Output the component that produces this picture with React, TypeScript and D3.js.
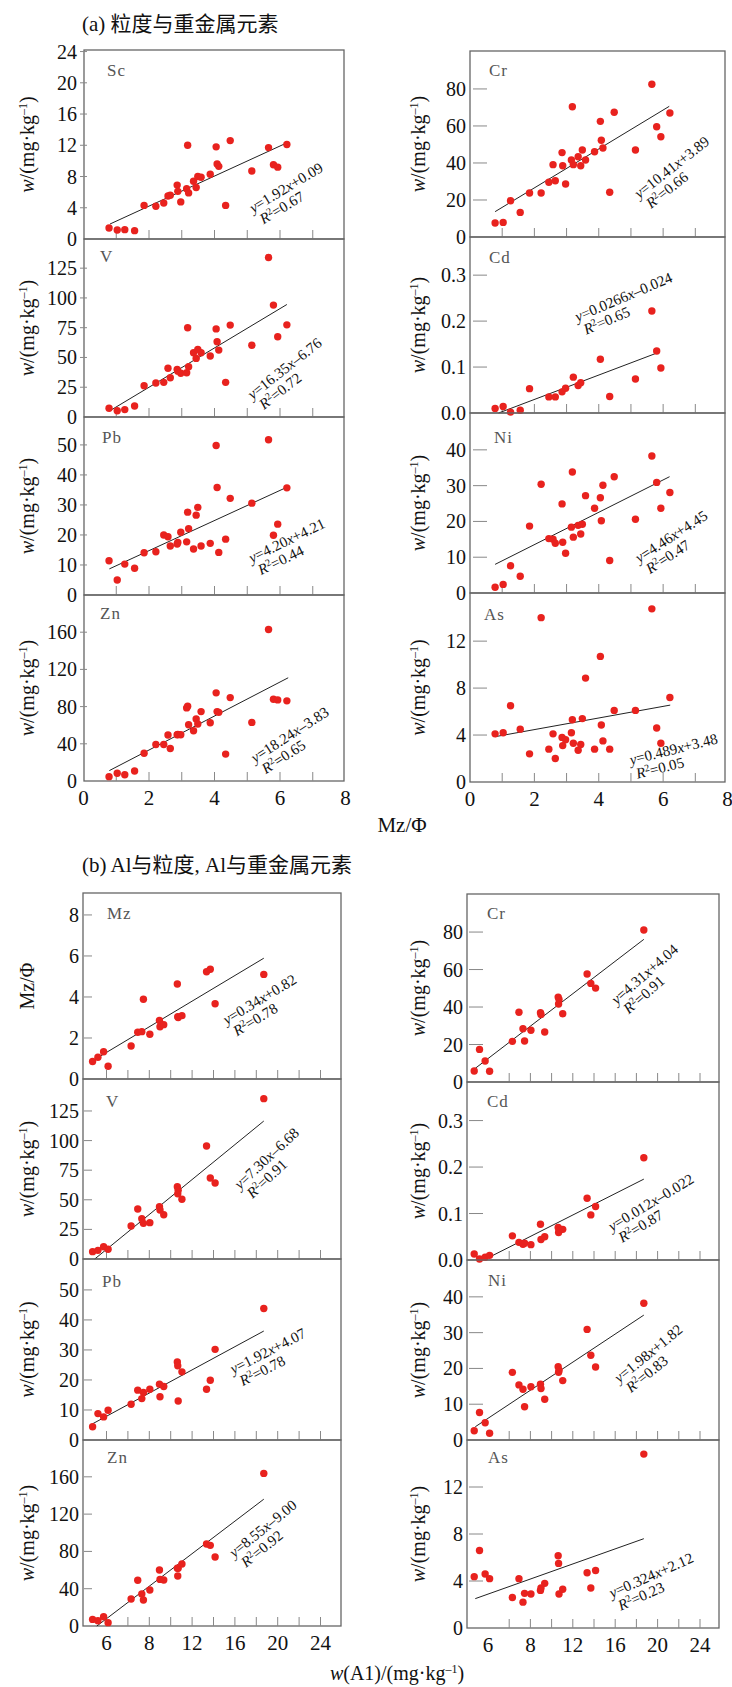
import * as d3 from 'd3';
import React from 'react';

// (a) mean grain size Mz (Φ) of each sample, same samples in every panel of part (a)
const mzA = [0.78, 1.03, 1.26, 1.56, 1.85, 2.21, 2.45, 2.58, 2.65, 2.86, 2.88, 2.97, 3.15, 3.18, 3.21, 3.36, 3.44, 3.49, 3.59, 3.87, 4.05, 4.08, 4.13, 4.34, 4.48, 5.14, 5.65, 5.8, 5.93, 6.21];
const scA = [1.4, 1.15, 1.2, 1.07, 4.3, 4.2, 4.6, 5.5, 5.6, 6.9, 6.1, 4.75, 6.45, 12.0, 5.9, 7.4, 6.6, 8.0, 7.9, 8.3, 11.8, 9.6, 9.3, 4.3, 12.6, 8.7, 11.7, 9.5, 9.2, 12.1];
const vA = [7.3, 5.3, 6.2, 9.2, 26.3, 28.5, 29.1, 40.9, 33, 40, 38.5, 36.7, 37.2, 75, 42.2, 54, 49.2, 56.8, 54, 51.2, 74, 63.2, 56.2, 29.1, 77.2, 60.2, 134, 94, 67.4, 77.4];
const pbA = [11.4, 5.0, 10.3, 8.9, 14.1, 14.4, 20, 19.4, 16.3, 17, 17.5, 20.9, 17.7, 27.6, 22.1, 15.3, 26.6, 29.2, 16.3, 17.2, 49.8, 35.8, 14.2, 18.6, 32.2, 30.6, 51.7, 19.9, 23.6, 35.7];
const znA = [4.7, 8.3, 6.8, 10.8, 29.9, 39.3, 39.3, 49.4, 35, 49.7, 50, 49.7, 78.6, 80.3, 60.5, 54, 66.7, 61.3, 74.6, 62.7, 94.8, 74.6, 73.8, 28.9, 89.7, 63, 162.9, 87.9, 87.2, 86.2];
const crA = [7.6, 7.9, 19.6, 13.3, 23.8, 23.8, 29.6, 39.1, 30.4, 45.6, 38.5, 28.6, 41.6, 70.4, 39.1, 43.4, 38.5, 47, 41.6, 46.1, 62.5, 52.3, 48.1, 24.2, 67.4, 47, 82.5, 59.6, 54.2, 67];
const cdA = [0.01, 0.014, 0.002, 0.006, 0.053, null, 0.035, null, 0.035, 0.046, null, 0.054, null, null, 0.078, 0.06, 0.066, null, null, null, 0.117, null, null, 0.036, null, 0.074, 0.222, 0.135, 0.098, null];
const niA = [1.6, 2.4, 7.6, 4.7, 18.7, 30.4, 15.2, 15.0, 13.9, 24.9, 14.2, 11.1, 18.4, 33.8, 15.6, 18.9, 16.5, 19.2, 27.2, 23.7, 26.6, 20.2, 30.1, 9.1, 32.5, 20.6, 38.3, 30.9, 23.7, 28.1];
const asA = [4.1, 4.2, 6.5, 4.5, 2.4, 14.0, 2.8, 4.1, 2.0, 3.8, 3.1, 3.6, 4.2, 5.3, 3.3, 2.7, 3.2, 5.4, 8.85, 2.8, 10.7, 4.85, 3.5, 2.8, 6.1, 6.1, 14.75, 4.6, 3.3, 7.2];

// (b) Al content of each sample (axis units as drawn)
const alB = [2.7, 3.2, 3.73, 4.15, 6.3, 6.92, 7.3, 7.45, 8.05, 8.95, 9.0, 9.35, 10.62, 10.66, 10.7, 11.05, 13.35, 13.7, 14.15, 18.7];
const mzB = [0.85, 1.06, 1.33, 0.62, 1.61, 2.28, 2.31, 3.89, 2.18, 2.85, 2.55, 2.65, 4.63, 3.04, 3.0, 3.09, 5.23, 5.35, 3.67, 5.1];
const vB = [6.2, 7.3, 10.4, 8.2, 27.9, 42.2, 34, 30.1, 30.7, 44.2, 41.4, 37.4, 61.1, 55, 58, 50.4, 95.4, 68.4, 64.2, 135.4];
const pbB = [4.4, 8.8, 7.7, 9.9, 11.9, 16.6, 13.8, 15.8, 16.9, 18.6, 14.4, 17.8, 26, 24.7, 13, 22.7, 16.9, 19.9, 30.2, 43.8];
const znB = [7.1, 5.7, 10, 3.6, 29, 49, 34.3, 27.9, 38.6, 60, 50, 49.3, 61.9, 53.6, 62, 66.5, 87.9, 86.5, 74, 163.7];
const crB = [5.9, 17.4, 11.2, 5.7, 21.7, 37.2, 28.4, 21.9, 27.6, 37, 36, 26.7, 45.3, 41.6, 44, 36.4, 57.6, 52.6, 50.1, 81.1];
const cdB = [0.013, 0.002, 0.006, 0.01, 0.052, 0.038, 0.034, 0.036, 0.033, 0.077, 0.044, 0.05, 0.07, 0.059, 0.063, 0.066, 0.133, 0.097, 0.115, 0.22];
const niB = [2.6, 7.7, 4.8, 1.9, 18.9, 15.4, 14.2, 9.3, 14.9, 15.6, 14.4, 11.4, 20.5, 18.9, 19.5, 16.6, 30.9, 23.7, 20.4, 38.2];
const asB = [4.37, 6.6, 4.6, 4.2, 2.6, 4.2, 2.2, 2.95, 2.9, 3.2, 3.4, 3.8, 6.15, 5.5, 2.9, 3.3, 4.7, 3.4, 4.9, 14.8];

// regression lines as drawn: [x0, y0, x1, y1]
const fitA = [
  [0.81, 1.92, 6.23, 12.35], [0.79, 5.0, 6.21, 94.5], [0.79, 8.7, 6.21, 35.9], [0.79, 11.2, 6.25, 111],
  [0.78, 13.7, 6.19, 70.6], [0.89, 0.0, 5.9, 0.133], [0.78, 8.0, 6.2, 32.5], [0.78, 3.86, 6.22, 6.55],
];
const fitB = [
  [2.7, 0.89, 18.7, 5.89], [2.9, 0, 18.7, 116.5], [2.7, 5.4, 18.7, 36.3], [3.1, 0, 18.7, 136],
  [2.8, 7.3, 18.7, 76.1], [3.6, 0, 18.7, 0.174], [2.8, 3.7, 18.7, 34.9], [2.8, 2.5, 18.7, 7.6],
];

// slope, intercept, R²
const eqA = [
  ['1.92', '+0.09', '0.67'], ['16.35', '–6.76', '0.72'], ['4.20', '+4.21', '0.44'], ['18.24', '–3.83', '0.65'],
  ['10.41', '+3.89', '0.66'], ['0.0266', '–0.024', '0.65'], ['4.46', '+4.45', '0.47'], ['0.489', '+3.48', '0.05'],
];
const eqB = [
  ['0.34', '+0.82', '0.78'], ['7.30', '–6.68', '0.91'], ['1.92', '+4.07', '0.78'], ['8.55', '–9.00', '0.92'],
  ['4.31', '+4.04', '0.91'], ['0.012', '–0.022', '0.87'], ['1.98', '+1.82', '0.83'], ['0.324', '+2.12', '0.23'],
];

const xTicksA = [1, 2, 3, 4, 5, 6, 7];
const xLabelsA = [0, 2, 4, 6, 8];
const xTicksBL = [4, 6, 8, 10, 12, 14, 16, 18, 20, 22, 24];
const xTicksBR = [6, 8, 10, 12, 14, 16, 18, 20, 22, 24];
const xLabelValsB = [4, 8, 12, 16, 20, 24];
const xLabelTextB = ['6', '8', '12', '16', '20', '24'];

const RED = '#e8221e';
const SERIF = "'Liberation Serif', 'Times New Roman', serif";
const CJK = "'Liberation Serif', 'Noto Sans CJK SC', sans-serif";

// column layouts
const colAL = { frameL: 84, frameR: 344, xDomain: [0, 8], xRange: [83.5, 345.5], tops: [50, 239, 417, 595, 781], yTick: [-4, 3], labelGap: 7, titleX: 27, xTicks: xTicksA, xLabels: xLabelsA.map(v => [v, String(v)]) };
const colAR = { frameL: 470, frameR: 725, xDomain: [0, 8], xRange: [470, 727.5], tops: [51, 237, 413, 593, 782], yTick: [3, 17], labelGap: 4, titleX: 418, xTicks: xTicksA, xLabels: xLabelsA.map(v => [v, String(v)]) };
const colBL = { frameL: 83, frameR: 341, xDomain: [4, 24], xRange: [106.5, 320.5], tops: [893, 1079, 1259, 1440, 1626], yTick: [1, 9], labelGap: 4, titleX: 27, xTicks: xTicksBL, xLabels: xLabelValsB.map((v, i) => [v, xLabelTextB[i]]) };
const colBR = { frameL: 467, frameR: 719, xDomain: [4, 24], xRange: [488, 700], tops: [894, 1082, 1260, 1440, 1628], yTick: [2, 16], labelGap: 4, titleX: 418, xTicks: xTicksBR, xLabels: xLabelValsB.map((v, i) => [v, xLabelTextB[i]]) };

const panelsA = [
  { name: 'Sc', col: colAL, row: 0, ys: scA, yMax: 24.2, yTicks: [0, 4, 8, 12, 16, 20, 24], note: [5.18, 3.3, -31], nameAt: [23, 26] },
  { name: 'V', col: colAL, row: 1, ys: vA, yMax: 149.5, yTicks: [0, 25, 50, 75, 100, 125], note: [5.16, 14.3, -38], nameAt: [16, 23] },
  { name: 'Pb', col: colAL, row: 2, ys: pbA, yMax: 59.3, yTicks: [0, 10, 20, 30, 40, 50], note: [5.14, 10.6, -26], nameAt: [18, 26] },
  { name: 'Zn', col: colAL, row: 3, ys: znA, yMax: 200, yTicks: [0, 40, 80, 120, 160], note: [5.24, 19.1, -33], nameAt: [16, 24] },
  { name: 'Cr', col: colAR, row: 0, ys: crA, yMax: 100.5, yTicks: [0, 20, 40, 60, 80], note: [5.26, 20.5, -38], nameAt: [19, 25] },
  { name: 'Cd', col: colAR, row: 1, ys: cdA, yMax: 0.383, yTicks: [0, 0.1, 0.2, 0.3], note: [3.34, 0.198, -23], nameAt: [19, 26] },
  { name: 'Ni', col: colAR, row: 2, ys: niA, yMax: 50.3, yTicks: [0, 10, 20, 30, 40], note: [5.26, 8.3, -33], nameAt: [24, 30] },
  { name: 'As', col: colAR, row: 3, ys: asA, yMax: 16.1, yTicks: [0, 4, 8, 12], note: [5.0, 1.45, -14], nameAt: [14, 27] },
];

const panelsB = [
  { name: 'Mz', col: colBL, row: 0, ys: mzB, yMax: 9.07, yTicks: [0, 2, 4, 6, 8], note: [15.23, 2.63, -31], nameAt: [24, 26], title: 'Mz/Φ' },
  { name: 'V', col: colBL, row: 1, ys: vB, yMax: 152, yTicks: [0, 25, 50, 75, 100, 125], note: [16.48, 58.3, -43], nameAt: [23, 28] },
  { name: 'Pb', col: colBL, row: 2, ys: pbB, yMax: 60.3, yTicks: [0, 10, 20, 30, 40, 50], note: [15.85, 21.9, -27], nameAt: [19, 28] },
  { name: 'Zn', col: colBL, row: 3, ys: znB, yMax: 199.5, yTicks: [0, 40, 80, 120, 160], note: [15.94, 72.6, -39], nameAt: [24, 23] },
  { name: 'Cr', col: colBR, row: 0, ys: crB, yMax: 100.3, yTicks: [0, 20, 40, 60, 80], note: [16.14, 41, -41], nameAt: [20, 25] },
  { name: 'Cd', col: colBR, row: 1, ys: cdB, yMax: 0.383, yTicks: [0, 0.1, 0.2, 0.3], note: [15.7, 0.061, -31], nameAt: [20, 25] },
  { name: 'Ni', col: colBR, row: 2, ys: niB, yMax: 50.3, yTicks: [0, 10, 20, 30, 40], note: [16.39, 15.8, -39], nameAt: [21, 26] },
  { name: 'As', col: colBR, row: 3, ys: asB, yMax: 16.0, yTicks: [0, 4, 8, 12], note: [15.7, 2.53, -24], nameAt: [21, 23] },
];

const YTitle = ({ x, y, text }) => (
  <text transform={`translate(${x},${y}) rotate(-90)`} textAnchor="middle" dy="0.35em" fontSize={20}>
    {text ? text : (
      <>
        <tspan fontStyle="italic">w</tspan>/(mg·kg<tspan fontSize={12} dy={-7}>–1</tspan><tspan dy={7}>)</tspan>
      </>
    )}
  </text>
);

const Panel = ({ p, xs, fit, eq }) => {
  const col = p.col;
  const top = col.tops[p.row];
  const bottom = col.tops[p.row + 1];
  const x = d3.scaleLinear(col.xDomain, col.xRange);
  const y = d3.scaleLinear([0, p.yMax], [bottom, top]);
  const fmt = p.yMax < 1 ? d3.format('.1f') : d3.format('d');
  const pts = xs.map((v, i) => [v, p.ys[i]]).filter(d => d[1] != null);
  const line = d3.line(d => x(d[0]), d => y(d[1]));
  const [nx, ny, ang] = p.note;

  return (
    <g>
      <rect x={col.frameL} y={top} width={col.frameR - col.frameL} height={bottom - top} fill="none" stroke="#666" strokeWidth={1.3} />
      {/* y ticks */}
      {p.yTicks.map(t => (
        <g key={t}>
          {t > 0 && <line x1={col.frameL + col.yTick[0]} x2={col.frameL + col.yTick[1]} y1={y(t)} y2={y(t)} stroke="#888" strokeWidth={1} />}
          <text x={col.frameL - col.labelGap} y={y(t)} dy="0.35em" textAnchor="end" fontSize={20}>{fmt(t)}</text>
        </g>
      ))}
      {/* x ticks, drawn inward from the bottom */}
      {col.xTicks.map(t => (
        <line key={t} x1={x(t)} x2={x(t)} y1={bottom} y2={bottom - 9} stroke="#888" strokeWidth={1} />
      ))}
      {p.row === 3 && col.xLabels.map(([v, s]) => (
        <text key={v} x={x(v)} y={bottom + 24} textAnchor="middle" fontSize={21}>{s}</text>
      ))}
      <text x={col.frameL + p.nameAt[0]} y={top + p.nameAt[1]} fill="#555" fontSize={17} letterSpacing={1}>{p.name}</text>
      <YTitle x={col.titleX} y={(top + bottom) / 2} text={p.title} />
      <path d={line([[fit[0], fit[1]], [fit[2], fit[3]]])} stroke="#222" strokeWidth={1} fill="none" />
      {pts.map((d, i) => (
        <circle key={i} cx={x(d[0])} cy={y(d[1])} r={3.7} fill={RED} />
      ))}
      <g transform={`translate(${x(nx)},${y(ny)}) rotate(${ang})`} fontSize={15}>
        <text>
          <tspan fontStyle="italic">y</tspan>={eq[0]}<tspan fontStyle="italic">x</tspan>{eq[1]}
        </text>
        <text x={3} y={15}>
          <tspan fontStyle="italic">R</tspan><tspan fontSize={10} dy={-5}>2</tspan><tspan dy={5}>={eq[2]}</tspan>
        </text>
      </g>
    </g>
  );
};

export default function App() {
  return (
    <svg width={732} height={1687} style={{ position: 'absolute', left: 0, top: 0, background: '#fff' }} fontFamily={SERIF} fill="#111">
      <text x={82} y={31} fontSize={21} fontFamily={CJK}>(a) 粒度与重金属元素</text>
      {panelsA.map((p, i) => (
        <Panel key={'a' + i} p={p} xs={mzA} fit={fitA[i]} eq={eqA[i]} />
      ))}
      <text x={402} y={832} fontSize={21} textAnchor="middle">Mz/Φ</text>

      <text x={82} y={872} fontSize={21} fontFamily={CJK}>(b) Al与粒度, Al与重金属元素</text>
      {panelsB.map((p, i) => (
        <Panel key={'b' + i} p={p} xs={alB} fit={fitB[i]} eq={eqB[i]} />
      ))}
      <text x={397} y={1680} fontSize={20} textAnchor="middle">
        <tspan fontStyle="italic">w</tspan>(A1)/(mg·kg<tspan fontSize={12} dy={-7}>–1</tspan><tspan dy={7}>)</tspan>
      </text>
    </svg>
  );
}
